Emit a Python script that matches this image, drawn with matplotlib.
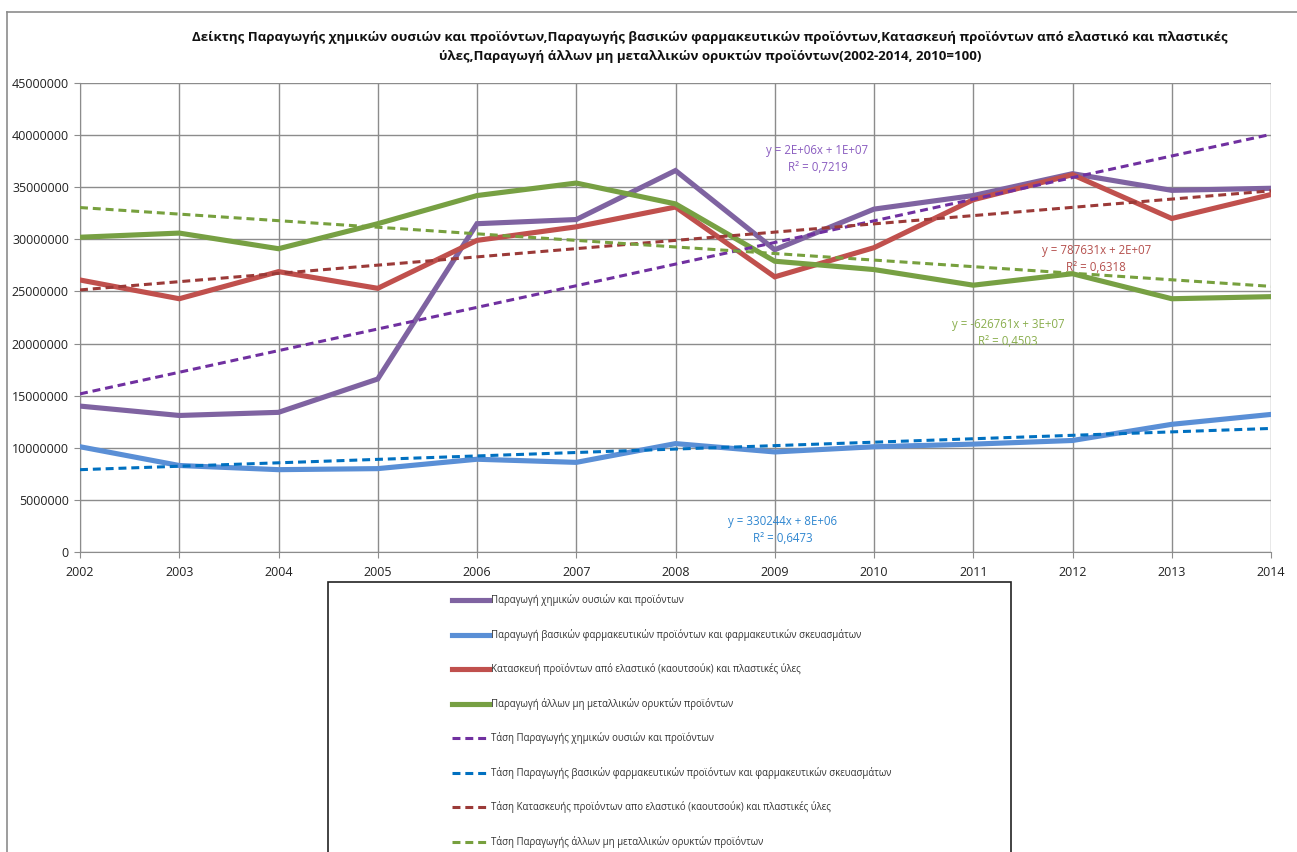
import numpy as np
import matplotlib
matplotlib.use("Agg")
import matplotlib.pyplot as plt
from matplotlib.patches import Rectangle
from matplotlib.lines import Line2D

plt.rcParams['font.family'] = ['Open Sans', 'DejaVu Sans']

years = list(range(2002, 2015))
chem = [14.0e6, 13.1e6, 13.4e6, 16.6e6, 31.5e6, 31.9e6, 36.6e6, 29.0e6, 32.9e6, 34.2e6, 36.3e6, 34.7e6, 34.9e6]
pharma = [10.1e6, 8.3e6, 7.9e6, 8.0e6, 8.9e6, 8.6e6, 10.4e6, 9.6e6, 10.1e6, 10.35e6, 10.7e6, 12.25e6, 13.2e6]
rubber = [26.1e6, 24.3e6, 26.9e6, 25.3e6, 29.9e6, 31.2e6, 33.1e6, 26.4e6, 29.2e6, 33.8e6, 36.2e6, 32.0e6, 34.3e6]
minerals = [30.2e6, 30.6e6, 29.1e6, 31.5e6, 34.2e6, 35.4e6, 33.4e6, 27.9e6, 27.1e6, 25.6e6, 26.7e6, 24.3e6, 24.5e6]

labels = [
    "Παραγωγή χημικών ουσιών και προϊόντων",
    "Παραγωγή βασικών φαρμακευτικών προϊόντων και φαρμακευτικών σκευασμάτων",
    "Κατασκευή προϊόντων από ελαστικό (καουτσούκ) και πλαστικές ύλες",
    "Παραγωγή άλλων μη μεταλλικών ορυκτών προϊόντων",
]
trend_labels = [
    "Τάση Παραγωγής χημικών ουσιών και προϊόντων",
    "Τάση Παραγωγής βασικών φαρμακευτικών προϊόντων και φαρμακευτικών σκευασμάτων",
    "Τάση Κατασκευής προϊόντων απο ελαστικό (καουτσούκ) και πλαστικές ύλες",
    "Τάση Παραγωγής άλλων μη μεταλλικών ορυκτών προϊόντων",
]
eq_texts = [
    "y = 2E+06x + 1E+07\nR² = 0,7219",
    "y = 330244x + 8E+06\nR² = 0,6473",
    "y = 787631x + 2E+07\nR² = 0,6318",
    "y = -626761x + 3E+07\nR² = 0,4503",
]
eq_pos = [(2009.43, 37.7e6), (2009.08, 2.1e6), (2012.24, 28.1e6), (2011.35, 21.0e6)]

title = ("Δείκτης Παραγωγής χημικών ουσιών και προϊόντων,Παραγωγής βασικών φαρμακευτικών προϊόντων,"
         "Κατασκευή προϊόντων από ελαστικό και πλαστικές\nύλες,Παραγωγή άλλων μη μεταλλικών ορυκτών προϊόντων(2002-2014, 2010=100)")

series = [chem, pharma, rubber, minerals]
colors = ['#7F63A1', '#5A8FD6', '#C0504D', '#77A043']
tcolors = ['#7030A0', '#0070C0', '#9B3A38', '#77A03E']
eq_colors = ['#8A5CC0', '#2F86D0', '#B5504D', '#8AAE4E']

W, H = 1297, 852
fig = plt.figure(figsize=(W / 100, H / 100), dpi=100)
fig.patch.set_facecolor('white')

def fx(px):
    return px / W

def fy(py):
    return 1 - py / H

ax = fig.add_axes([fx(80), fy(552), fx(1271) - fx(80), fy(83) - fy(552)])

x_idx = np.arange(1, len(years) + 1)
solid_handles = []
trend_handles = []
for s, c in zip(series, colors):
    h, = ax.plot(years, s, color=c, lw=3.7, solid_joinstyle='miter', zorder=3)
    solid_handles.append(h)
for s, c in zip(series, tcolors):
    k, b = np.polyfit(x_idx, s, 1)
    h, = ax.plot(years, k * x_idx + b, color=c, lw=2.2, linestyle=(0, (2.6, 1.6)), zorder=4)
    trend_handles.append(h)

for t, (xx, yy), c in zip(eq_texts, eq_pos, eq_colors):
    ax.text(xx, yy, t, color=c, ha='center', va='center', fontsize=8.3,
            linespacing=1.45, multialignment='center', zorder=5)

ax.set_xlim(2002, 2014)
ax.set_ylim(0, 45e6)
ax.set_xticks(years)
ax.set_yticks(np.arange(0, 45e6 + 1, 5e6))
ax.set_yticklabels([f"{int(v)}" for v in np.arange(0, 45e6 + 1, 5e6)])
ax.grid(True, color='#8C8C8C', lw=1.0)
ax.set_axisbelow(True)
for side in ['top', 'right']:
    ax.spines[side].set_visible(False)
for side in ['left', 'bottom']:
    ax.spines[side].set_color('#8C8C8C')
ax.tick_params(axis='both', colors='#8C8C8C', labelcolor='#222222', labelsize=9, length=4)
ax.tick_params(axis='y', pad=4)
ax.tick_params(axis='x', pad=6)

fig.text(fx(710), fy(47), title, ha='center', va='center', fontsize=9.55, fontweight='bold',
         linespacing=1.6, color='#111111')

# outer chart border
fig.add_artist(Line2D([fx(7), fx(1400)], [fy(12), fy(12)], color='#8C8C8C', lw=1.2))
fig.add_artist(Line2D([fx(7), fx(7)], [fy(12), fy(900)], color='#8C8C8C', lw=1.2))

# legend box
fig.add_artist(Rectangle((fx(328), fy(900)), fx(1011) - fx(328), fy(582) - fy(900),
                         fill=False, edgecolor='#222222', lw=1.2, transform=fig.transFigure))

leg = fig.legend(solid_handles + trend_handles, labels + trend_labels, loc='upper left',
                 bbox_to_anchor=(fx(448), fy(590.5)), frameon=False, fontsize=6.9,
                 handlelength=3.86, handletextpad=0.2, labelspacing=2.35, borderaxespad=0)
for t in leg.get_texts():
    t.set_color('#333333')

fig.savefig('out.png', dpi=100)
